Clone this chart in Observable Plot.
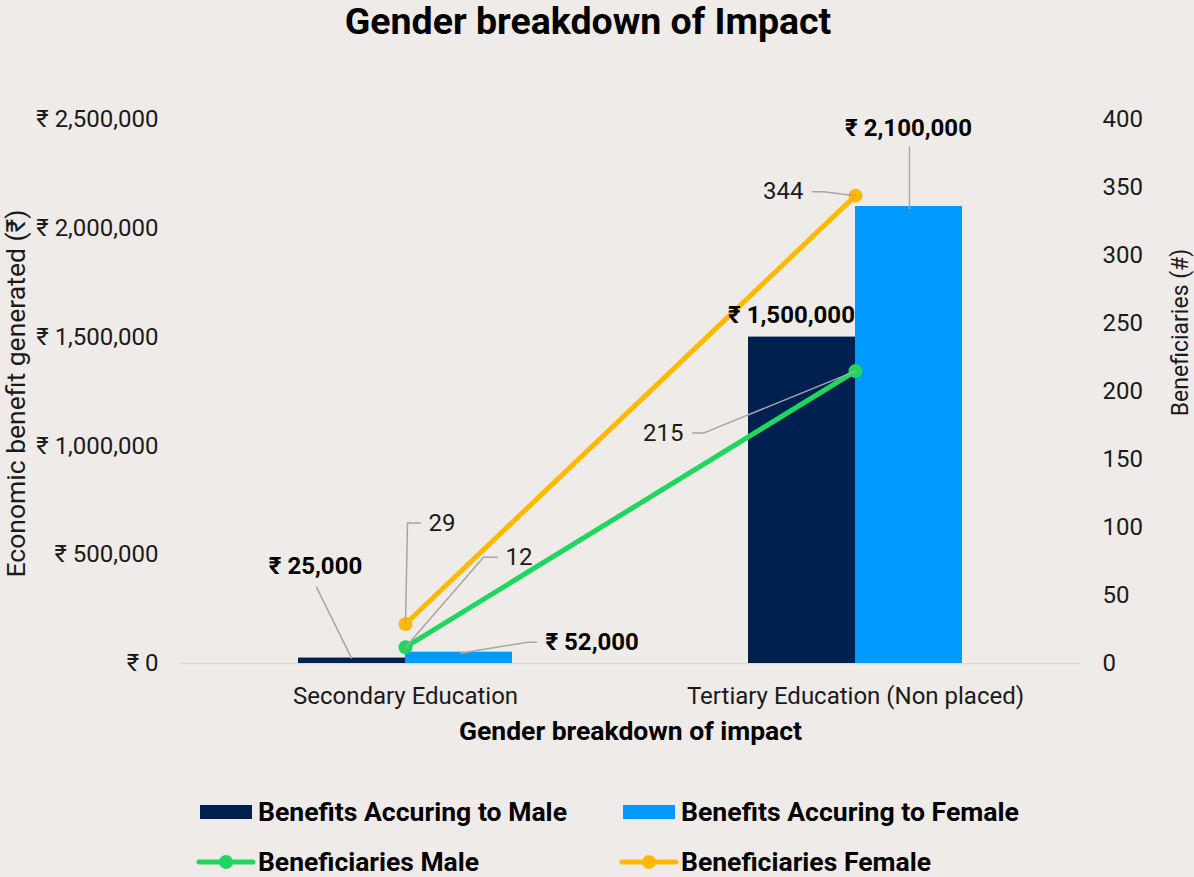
<!DOCTYPE html>
<html><head><meta charset="utf-8">
<script src="https://cdn.jsdelivr.net/npm/d3@7"></script>
<script src="https://cdn.jsdelivr.net/npm/@observablehq/plot@0.6"></script>
<style>
body{margin:0;background:#efebe8;font-family:Roboto,sans-serif;width:1194px;height:877px;overflow:hidden}
#title{height:60px;text-align:center;font-weight:700;font-size:37.5px;line-height:42px;color:#000;padding-right:18px}
#chart svg,#legend svg{display:block}
</style></head><body>
<div id="title">Gender breakdown of Impact</div>
<div id="chart"></div>
<div id="legend"></div>
<script>
// ---- data ----
const categories = ["Secondary Education", "Tertiary Education (Non placed)"];
const benefitsMale = [25000, 1500000];
const benefitsFemale = [52000, 2100000];
const beneficiariesMale = [12, 215];
const beneficiariesFemale = [29, 344];
const leftTicks = [0, 500000, 1000000, 1500000, 2000000, 2500000];
const rightTicks = [0, 50, 100, 150, 200, 250, 300, 350, 400];
const seriesNames = ["Benefits Accuring to Male", "Benefits Accuring to Female", "Beneficiaries Male", "Beneficiaries Female"];

// ---- styles ----
const C = {male: "#002050", female: "#0099ff", green: "#1fd65f", yellow: "#ffb900", leader: "#a6a6a6", text: "#1a1a1a"};
const K = 2500000 / 400; // right axis mapped onto left scale
const fmtMoney = d => "₹ " + d3.format(",")(d);

const males = categories.map((c, i) => ({category: c, value: benefitsMale[i], count: beneficiariesMale[i]}));
const females = categories.map((c, i) => ({category: c, value: benefitsFemale[i], count: beneficiariesFemale[i]}));

// annotation layout (pixel offsets from category centre)
const annotations = [
  {cat: 0, y: benefitsMale[0], text: fmtMoney(benefitsMale[0]), bold: true, dx: -90, dy: -92, anchor: "middle", path: [[-54, 0], [-89, -71]]},
  {cat: 0, y: benefitsFemale[0], text: fmtMoney(benefitsFemale[0]), bold: true, dx: 140, dy: -10, anchor: "start", path: [[55, 1], [122, -10], [131, -10]]},
  {cat: 1, y: benefitsMale[1], text: fmtMoney(benefitsMale[1]), bold: true, dx: -64, dy: -22, anchor: "middle", path: null},
  {cat: 1, y: benefitsFemale[1], text: fmtMoney(benefitsFemale[1]), bold: true, dx: 53, dy: -78, anchor: "middle", path: [[54, 2], [54, -59]]},
  {cat: 0, y: beneficiariesFemale[0] * K, text: String(beneficiariesFemale[0]), bold: false, dx: 23, dy: -101, anchor: "start", path: [[0, 0], [2, -101], [15, -101]]},
  {cat: 0, y: beneficiariesMale[0] * K, text: String(beneficiariesMale[0]), bold: false, dx: 100, dy: -90, anchor: "start", path: [[0, 0], [78, -90], [92, -90]]},
  {cat: 1, y: beneficiariesFemale[1] * K, text: String(beneficiariesFemale[1]), bold: false, dx: -52, dy: -4, anchor: "end", path: [[0, 0], [-32, -4], [-43, -4]]},
  {cat: 1, y: beneficiariesMale[1] * K, text: String(beneficiariesMale[1]), bold: false, dx: -172, dy: 62, anchor: "end", path: [[0, 0], [-152, 62], [-163, 62]]}
];
const polyShape = pts => ({draw(ctx) { ctx.moveTo(pts[0][0], pts[0][1]); for (const p of pts.slice(1)) ctx.lineTo(p[0], p[1]); }});

const marks = [
  Plot.ruleY([0], {stroke: "#d9d9d9", strokeWidth: 1.5}),
  Plot.axisY({anchor: "left", ticks: leftTicks, tickFormat: fmtMoney, tickSize: 0, tickPadding: 22, fontSize: 24, label: null}),
  Plot.axisY({anchor: "right", ticks: rightTicks.map(v => v * K), tickFormat: d => String(Math.round(d / K)), tickSize: 0, tickPadding: 22, fontSize: 24, label: null}),
  Plot.axisX({anchor: "bottom", tickSize: 0, tickPadding: 23, fontSize: 24, label: null}),
  Plot.text(["Economic benefit generated (₹)"], {frameAnchor: "left", textAnchor: "middle", lineAnchor: "middle", rotate: -90, dx: -164, dy: 2, fontSize: 26.5, fill: C.text}),
  Plot.text(["Beneficiaries (#)"], {frameAnchor: "right", textAnchor: "middle", lineAnchor: "middle", rotate: -90, dx: 100, dy: -59, fontSize: 23, fill: C.text}),
  Plot.text(["Gender breakdown of impact"], {frameAnchor: "bottom", textAnchor: "middle", lineAnchor: "middle", dy: 68, fontSize: 26.5, fontWeight: 700, fill: "#000"}),
  Plot.barY(males, {x: "category", y: "value", fill: C.male, insetRight: 107}),
  Plot.barY(females, {x: "category", y: "value", fill: C.female, insetLeft: 107}),
  Plot.line(males, {x: "category", y: d => d.count * K, stroke: C.green, strokeWidth: 5}),
  Plot.line(females, {x: "category", y: d => d.count * K, stroke: C.yellow, strokeWidth: 5}),
  Plot.dot(males, {x: "category", y: d => d.count * K, r: 7, fill: C.green}),
  Plot.dot(females, {x: "category", y: d => d.count * K, r: 7, fill: C.yellow})
];
for (const a of annotations) {
  if (a.path) marks.push(Plot.vector([a], {x: d => categories[d.cat], y: "y", length: 1, rotate: 0, anchor: "start", shape: polyShape(a.path), stroke: C.leader, strokeWidth: 1.5}));
  marks.push(Plot.text([a], {x: d => categories[d.cat], y: "y", text: "text", dx: a.dx, dy: a.dy, textAnchor: a.anchor, fontSize: 24, fontWeight: a.bold ? 700 : 400, fill: a.bold ? "#000" : C.text}));
}

const chart = Plot.plot({
  width: 1194, height: 700,
  marginLeft: 180, marginRight: 114, marginTop: 59, marginBottom: 97,
  style: {background: "transparent", color: C.text, fontFamily: "Roboto, sans-serif"},
  x: {type: "band", domain: categories, paddingInner: 0.5244, paddingOuter: 0.2622, axis: null},
  y: {domain: [0, 2500000], axis: null},
  marks
});
document.getElementById("chart").append(chart);

// ---- legend ----
const lg = d3.select("#legend").append("svg").attr("width", 1194).attr("height", 117).style("font-family", "Roboto, sans-serif");
const legendItems = [
  {name: seriesNames[0], type: "rect", color: C.male, x: 200, y: 52, w: 309},
  {name: seriesNames[1], type: "rect", color: C.female, x: 623, y: 52, w: 338},
  {name: seriesNames[2], type: "line", color: C.green, x: 200, y: 102, w: 221},
  {name: seriesNames[3], type: "line", color: C.yellow, x: 623, y: 102, w: 250}
];
for (const it of legendItems) {
  if (it.type === "rect") {
    lg.append("rect").attr("x", it.x).attr("y", it.y - 7).attr("width", 52).attr("height", 14).attr("fill", it.color);
  } else {
    lg.append("line").attr("x1", it.x - 1).attr("x2", it.x + 53).attr("y1", it.y).attr("y2", it.y).attr("stroke", it.color).attr("stroke-width", 5).attr("stroke-linecap", "round");
    lg.append("circle").attr("cx", it.x + 26).attr("cy", it.y).attr("r", 7).attr("fill", it.color);
  }
  lg.append("text").attr("x", it.x + 58).attr("y", it.y + 9).attr("font-size", 25).attr("font-weight", 700).attr("fill", "#000")
    .attr("textLength", it.w).attr("lengthAdjust", "spacingAndGlyphs").text(it.name);
}
</script>
</body></html>
